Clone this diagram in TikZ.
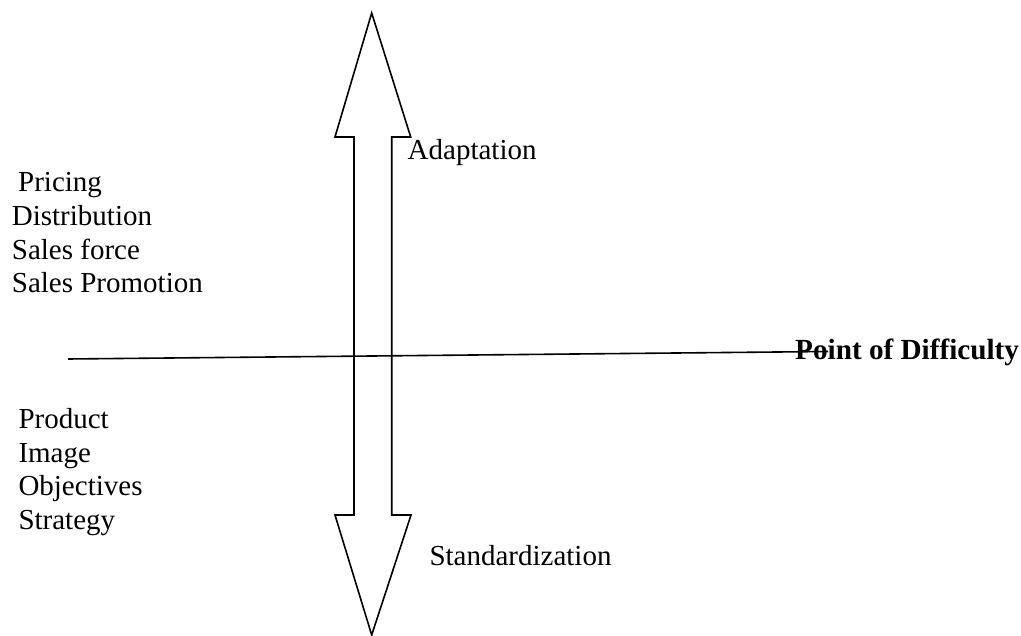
\documentclass[tikz,border=0pt]{standalone}
\usepackage{fontspec}
\setmainfont{Liberation Serif}
\begin{document}
\begin{tikzpicture}[x=1pt,y=-1pt,
  lbl/.style={anchor=base west,inner sep=0pt,font=\fontsize{29}{33}\selectfont},
  bold lbl/.style={lbl,font=\fontsize{29.2}{33}\selectfont\bfseries},
  shape line/.style={draw=black,line width=1.6pt,line join=miter},
  axis line/.style={draw=black,line width=1.6pt}]
\useasboundingbox (0,0) rectangle (1021,636);
% double arrow
\draw[shape line] (371.7,13) -- (410.7,137) -- (391.7,137) -- (391.7,515) -- (411,515)
  -- (371.7,635) -- (335,515) -- (354,515) -- (354,137) -- (335,137) -- cycle;
% labels
\node[lbl] (adapt) at (407.5,159.3) {Adaptation};
\node[lbl] (std) at (429.3,565) {Standardization};
\node[lbl] (pricing) at (18,192) {Pricing};
\node[lbl] (dist) at (11.7,226) {Distribution};
\node[lbl] (force) at (11.7,259.5) {Sales force};
\node[lbl] (promo) at (11.7,293) {Sales Promotion};
\node[lbl] (product) at (18.3,429) {Product};
\node[lbl] (image) at (18.3,462.5) {Image};
\node[lbl] (obj) at (18.3,496) {Objectives};
\node[lbl] (strat) at (18.3,529.5) {Strategy};
\node[bold lbl] (pod) at (795,359.3) {Point of Difficulty};
% horizontal line
\coordinate (hstart) at (68,359);
\coordinate (hend) at (828,351.5);
\draw[axis line] (hstart) -- (hend);
\end{tikzpicture}
\end{document}
